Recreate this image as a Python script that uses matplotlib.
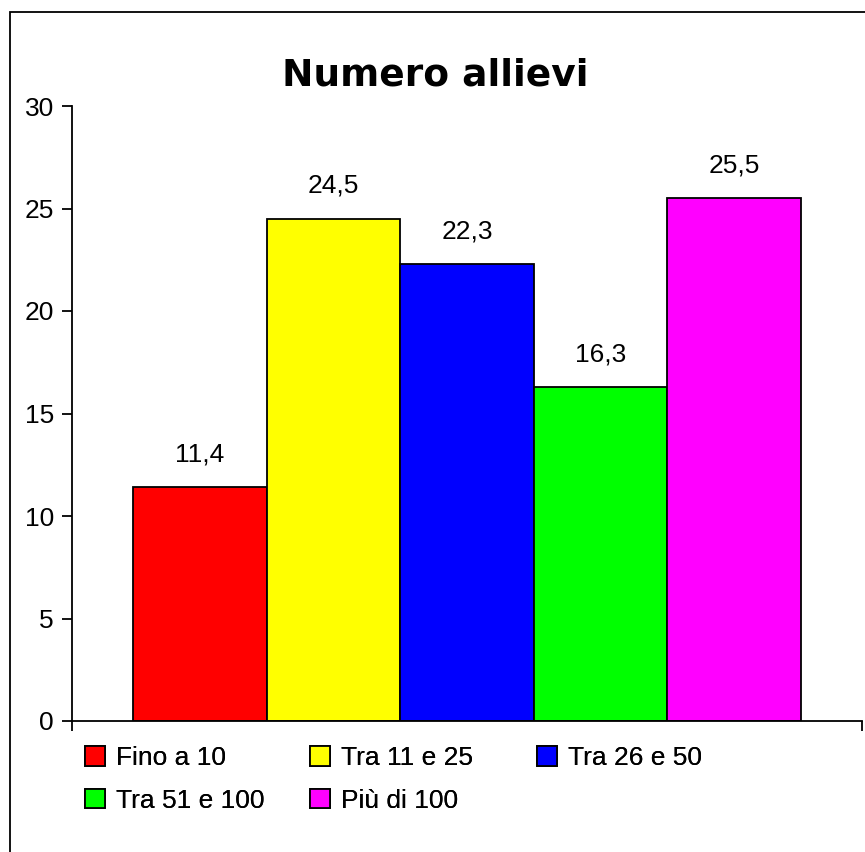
import matplotlib
matplotlib.use("Agg")
import matplotlib.pyplot as plt
from matplotlib.patches import Rectangle

# data
categorie = ["Fino a 10", "Tra 11 e 25", "Tra 26 e 50", "Tra 51 e 100", "Più di 100"]
valori = [11.4, 24.5, 22.3, 16.3, 25.5]
colori = ["#ff0000", "#ffff00", "#0000ff", "#00ff00", "#ff00ff"]
yticks = [0, 5, 10, 15, 20, 25, 30]

plt.rcParams['font.family'] = ['Liberation Sans', 'DejaVu Sans']

fig = plt.figure(figsize=(8.65, 8.52), dpi=100)
ax = fig.add_axes([72/865, 1-721/852, 790/865, 615/852])

# outer frame of the chart area (cut off right and bottom)
fig.patches.append(Rectangle((10/865, -0.05), 1.0, 1-12/852+0.05, transform=fig.transFigure,
                             fill=False, edgecolor="black", linewidth=1.3, clip_on=False))

bars = []
for i in range(len(valori)):
    b = ax.bar(i, valori[i], width=1.0, color=colori[i], edgecolor="black", linewidth=1.3,
               label=categorie[i])
    bars.append(b)
    ax.text(i, valori[i] + 1.6, ("%.1f" % valori[i]).replace(".", ","),
            ha="center", va="center", fontsize=19)

ax.set_xlim(-0.957, 4.957)
ax.set_ylim(0, 30)
ax.set_yticks(yticks)
ax.set_yticklabels([str(t) for t in yticks], fontsize=19)
ax.set_xticks([-0.957, 4.957])
ax.set_xticklabels(["", ""])
ax.tick_params(axis="both", direction="out", length=7, width=1.3, pad=6)
ax.spines["top"].set_visible(False)
ax.spines["right"].set_visible(False)
ax.spines["left"].set_linewidth(1.3)
ax.spines["bottom"].set_linewidth(1.3)

fig.text(435/865, 1-75/852, "Numero allievi", ha="center", va="center",
         fontsize=27, fontweight="bold", family="DejaVu Sans")

# legend: three fixed-width columns, filled row by row
colonne = [[0, 3], [1, 4], [2]]
xcol = [72, 297, 524]
for c in range(3):
    leg = fig.legend([bars[k] for k in colonne[c]], [categorie[k] for k in colonne[c]],
                     loc="upper left", bbox_to_anchor=(xcol[c]/865, 1-733/852),
                     frameon=False, fontsize=19, handlelength=0.75, handleheight=0.75,
                     handletextpad=0.4, labelspacing=0.7, borderpad=0)
    fig.add_artist(leg)

fig.savefig("out.png", dpi=100)
